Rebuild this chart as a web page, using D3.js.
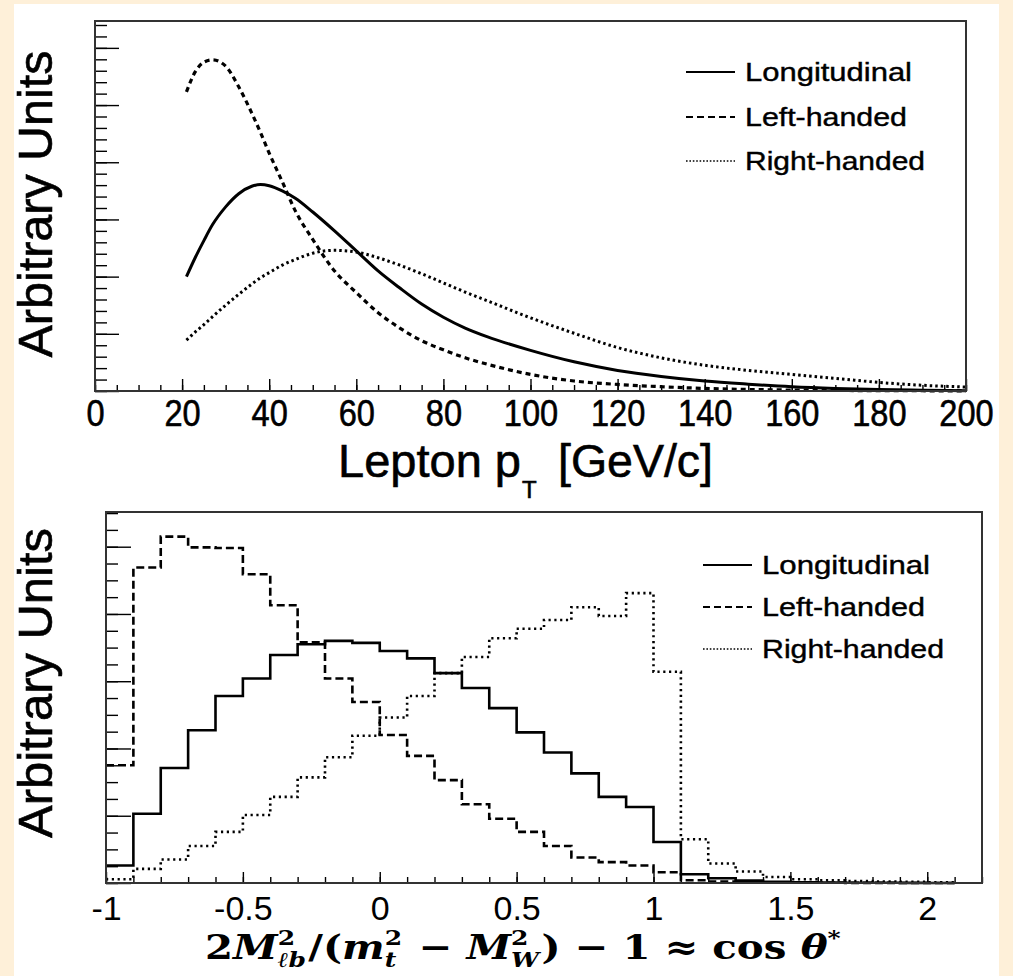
<!DOCTYPE html>
<html>
<head>
<meta charset="utf-8">
<script src="https://cdn.jsdelivr.net/npm/d3@7"></script>
<style>
  body { margin: 0; background: #fef0d9; }
  text { font-family: "Liberation Sans", Arial, sans-serif; fill: #000; }
  .heavy { stroke: #000; stroke-width: 0.6px; }
</style>
</head>
<body>
<svg id="chart" width="1013" height="976"></svg>
<script>
// ---- top panel: lepton pT spectra ----
const ptGrid = [21, 23, 25, 27, 30, 33, 36, 38, 40, 43, 46, 50, 55, 60, 65, 70, 75, 80, 85, 90,
  100, 110, 120, 130, 140, 150, 160, 170, 180, 190, 200];
const ptLongitudinal = [2.00, 2.33, 2.63, 2.91, 3.22, 3.45, 3.58, 3.61, 3.59, 3.50, 3.37, 3.13, 2.80, 2.45, 2.10, 1.80,
  1.52, 1.29, 1.10, 0.95, 0.71, 0.51, 0.36, 0.255, 0.175, 0.12, 0.075, 0.045, 0.025, 0.013, 0.006];
const ptLeftHanded = [5.23, 5.58, 5.75, 5.79, 5.68, 5.32, 4.86, 4.52, 4.16, 3.66, 3.15, 2.65, 2.10, 1.72, 1.37, 1.10,
  0.88, 0.72, 0.58, 0.47, 0.29, 0.175, 0.115, 0.075, 0.045, 0.027, 0.016, 0.01, 0.006, 0.004, 0.002];
const ptRightHanded = [0.89, 1.03, 1.16, 1.30, 1.50, 1.69, 1.87, 1.98, 2.07, 2.20, 2.30, 2.41, 2.46, 2.43, 2.33, 2.20,
  2.05, 1.89, 1.73, 1.58, 1.28, 1.01, 0.76, 0.58, 0.45, 0.36, 0.29, 0.22, 0.15, 0.10, 0.07];
const ptTickLabels = [0, 20, 40, 60, 80, 100, 120, 140, 160, 180, 200];

// ---- bottom panel: cos theta* histograms, bins of 0.1 starting at -1 ----
const binLow = -1;
const binWidth = 0.1;
const cosLongitudinal = [0.26, 1.03, 1.71, 2.27, 2.78, 3.04, 3.39, 3.55, 3.60, 3.57, 3.45, 3.34, 3.12, 2.90, 2.60, 2.24,
  1.94, 1.63, 1.28, 1.13, 0.61, 0.13, 0.07, 0.035, 0.018, 0.01, 0.006, 0.004, 0.003, 0.002, 0.001];
const cosLeftHanded = [1.75, 4.69, 5.15, 4.99, 4.98, 4.59, 4.13, 3.58, 3.04, 2.69, 2.20, 1.89, 1.53, 1.17, 0.955, 0.76,
  0.55, 0.38, 0.31, 0.26, 0.16, 0.04, 0.02, 0.012, 0.008, 0.005, 0.003, 0.002, 0.0015, 0.001, 0.001];
const cosRightHanded = [0.055, 0.21, 0.35, 0.55, 0.76, 1.01, 1.28, 1.57, 1.87, 2.19, 2.46, 2.78, 3.12, 3.36, 3.64, 3.78,
  3.91, 4.10, 3.97, 4.31, 3.14, 0.65, 0.29, 0.17, 0.09, 0.055, 0.04, 0.03, 0.022, 0.016, 0.012];
const cosTickLabels = [-1, -0.5, 0, 0.5, 1, 1.5, 2];

const seriesNames = ['Longitudinal', 'Left-handed', 'Right-handed'];

const svg = d3.select('#chart');

// cream border and white pad
svg.append('rect').attr('width', 1013).attr('height', 976).attr('fill', '#fef0d9');
svg.append('rect').attr('x', 14).attr('y', 4).attr('width', 985).attr('height', 972).attr('fill', '#fff');

// helper: draw ticks from an axis, drop the domain path
function drawTicks(g, axis, transform) {
  return g.append('g')
    .attr('transform', transform)
    .call(axis)
    .call(s => s.select('.domain').remove())
    .call(s => s.selectAll('line').attr('stroke', '#000').attr('stroke-width', 1.4));
}

function drawFrame(g, x, y) {
  g.append('rect')
    .attr('x', x.range()[0])
    .attr('y', y.range()[1])
    .attr('width', x.range()[1] - x.range()[0])
    .attr('height', y.range()[0] - y.range()[1])
    .attr('fill', 'none')
    .attr('stroke', '#333')
    .attr('stroke-width', 2);
}

// legend, one row per series
function drawLegend(g, x0, x1, xText, rows, styles, widths) {
  seriesNames.forEach((name, i) => {
    g.append('line')
      .attr('x1', x0).attr('x2', x1)
      .attr('y1', rows[i]).attr('y2', rows[i])
      .attr('stroke', '#000')
      .attr('stroke-width', styles[i].legendWidth)
      .attr('stroke-dasharray', styles[i].legendDash);
    g.append('text')
      .attr('class', 'heavy')
      .attr('x', xText)
      .attr('y', rows[i] + 9)
      .style('font-size', '25px')
      .style('stroke-width', '0.4px')
      .attr('textLength', widths[i])
      .attr('lengthAdjust', 'spacingAndGlyphs')
      .text(name);
  });
}

// ================= top panel =================
const xTop = d3.scaleLinear().domain([0, 200]).range([95, 966]);
const yTop = d3.scaleLinear().domain([0, 6.47]).range([391, 21]);
const topPanel = svg.append('g');

const topStyles = [
  { width: 3, dash: null, legendWidth: 2, legendDash: null },
  { width: 3.2, dash: '5,4', legendWidth: 2, legendDash: '7,4' },
  { width: 3, dash: '2.5,3', legendWidth: 1.6, legendDash: '1.6,1.8' }
];

const topLine = d3.line()
  .x((d, i) => xTop(ptGrid[i]))
  .y(d => yTop(d))
  .curve(d3.curveMonotoneX);

[ptLongitudinal, ptLeftHanded, ptRightHanded].forEach((vals, i) => {
  topPanel.append('path')
    .attr('d', topLine(vals))
    .attr('fill', 'none')
    .attr('stroke', '#000')
    .attr('stroke-width', topStyles[i].width)
    .attr('stroke-dasharray', topStyles[i].dash);
});

drawTicks(topPanel, d3.axisBottom(xTop).tickValues(d3.range(0, 201, 5)).tickSize(-6).tickFormat(''), 'translate(0,391)');
const topXMajor = drawTicks(topPanel, d3.axisBottom(xTop).tickValues(ptTickLabels).tickSize(-12).tickFormat(d3.format('d')), 'translate(0,391)');
topXMajor.selectAll('text')
  .attr('class', 'heavy')
  .attr('y', 35).attr('dy', null)
  .style('font-size', '37px')
  .each(function () {
    const w = this.getComputedTextLength();
    d3.select(this).attr('textLength', w * 0.88).attr('lengthAdjust', 'spacingAndGlyphs');
  });

drawTicks(topPanel, d3.axisLeft(yTop).tickValues(d3.range(0, 6.47, 0.2)).tickSize(-12).tickFormat(''), 'translate(95,0)');
drawTicks(topPanel, d3.axisLeft(yTop).tickValues(d3.range(0, 7, 1)).tickSize(-24).tickFormat(''), 'translate(95,0)');

drawFrame(topPanel, xTop, yTop);

topPanel.append('text')
  .attr('class', 'heavy')
  .attr('transform', 'translate(52,204) rotate(-90)')
  .attr('text-anchor', 'middle')
  .style('font-size', '48px')
  .attr('textLength', 307)
  .attr('lengthAdjust', 'spacingAndGlyphs')
  .text('Arbitrary Units');

// x title: Lepton p_T [GeV/c]
topPanel.append('text').attr('class', 'heavy').attr('x', 338).attr('y', 477).style('font-size', '47px')
  .attr('textLength', 183).attr('lengthAdjust', 'spacingAndGlyphs').text('Lepton p');
topPanel.append('text').attr('class', 'heavy').attr('x', 522).attr('y', 498).style('font-size', '24px').text('T');
topPanel.append('text').attr('class', 'heavy').attr('x', 558).attr('y', 477).style('font-size', '47px')
  .attr('textLength', 155).attr('lengthAdjust', 'spacingAndGlyphs').text('[GeV/c]');

drawLegend(topPanel, 686, 735, 745, [72, 117, 161], topStyles, [167, 162, 180]);

// ================= bottom panel =================
const xBot = d3.scaleLinear().domain([-1, 2.2]).range([106, 982]);
const yBot = d3.scaleLinear().domain([0, 5.516]).range([883, 512]);
const botPanel = svg.append('g');

const botStyles = [
  { width: 2.6, dash: null, legendWidth: 2, legendDash: null },
  { width: 2.6, dash: '8,4', legendWidth: 2, legendDash: '7,4' },
  { width: 2.6, dash: '2.2,3.6', legendWidth: 1.6, legendDash: '1.6,1.8' }
];

const histLine = d3.line()
  .x(d => xBot(d[0]))
  .y(d => yBot(d[1]))
  .curve(d3.curveStepAfter);

function histPoints(vals) {
  const pts = vals.map((v, i) => [binLow + i * binWidth, v]);
  pts.push([binLow + vals.length * binWidth, vals[vals.length - 1]]);
  return pts;
}

[cosLongitudinal, cosLeftHanded, cosRightHanded].forEach((vals, i) => {
  botPanel.append('path')
    .attr('d', histLine(histPoints(vals)))
    .attr('fill', 'none')
    .attr('stroke', '#000')
    .attr('stroke-width', botStyles[i].width)
    .attr('stroke-dasharray', botStyles[i].dash);
});

drawTicks(botPanel, d3.axisBottom(xBot).tickValues(d3.range(-10, 23).map(i => i / 10)).tickSize(-6).tickFormat(''), 'translate(0,883)');
const botXMajor = drawTicks(botPanel, d3.axisBottom(xBot).tickValues(cosTickLabels).tickSize(-11).tickFormat(d => String(d)), 'translate(0,883)');
botXMajor.selectAll('text')
  .attr('y', 37).attr('dy', null)
  .style('font-size', '34px');

drawTicks(botPanel, d3.axisLeft(yBot).tickValues(d3.range(0, 5.52, 0.25)).tickSize(-12).tickFormat(''), 'translate(106,0)');
drawTicks(botPanel, d3.axisLeft(yBot).tickValues(d3.range(0, 6, 1)).tickSize(-25).tickFormat(''), 'translate(106,0)');

drawFrame(botPanel, xBot, yBot);

botPanel.append('text')
  .attr('class', 'heavy')
  .attr('transform', 'translate(52,683) rotate(-90)')
  .attr('text-anchor', 'middle')
  .style('font-size', '48px')
  .attr('textLength', 310)
  .attr('lengthAdjust', 'spacingAndGlyphs')
  .text('Arbitrary Units');

drawLegend(botPanel, 703, 752, 762, [565, 607, 649], botStyles, [168, 163, 182]);

// x title: 2M^2_{lb}/(m^2_t - M^2_W) - 1 ≈ cos θ*
const formula = [
  { t: '2' }, { t: 'M', it: true }, { sup: '2', sub: 'ℓb' },
  { t: '/(' }, { t: 'm', it: true }, { sup: '2', sub: 't' },
  { t: ' − ' }, { t: 'M', it: true }, { sup: '2', sub: 'W' },
  { t: ') − 1 ≈ cos ' }, { t: 'θ', it: true }, { sup: '*' }
];
const fg = botPanel.append('g');
const fs = 34;
let cx = 0;
function piece(txt, y, size, italic) {
  const t = fg.append('text')
    .attr('x', cx).attr('y', y)
    .style('font-family', '"DejaVu Serif", serif')
    .style('font-weight', 'bold')
    .style('font-style', italic ? 'italic' : 'normal')
    .style('font-size', size + 'px')
    .style('white-space', 'pre')
    .text(txt);
  return t.node().getComputedTextLength();
}
formula.forEach(p => {
  if (p.t !== undefined) {
    cx += piece(p.t, 0, fs, p.it);
  } else {
    const w1 = p.sup ? piece(p.sup, -fs * 0.42, fs * 0.62, false) : 0;
    const w2 = p.sub ? piece(p.sub, fs * 0.24, fs * 0.62, true) : 0;
    cx += Math.max(w1, w2) + 2;
  }
});
fg.attr('transform', `translate(205,959) scale(${(843 - 205) / cx},1)`);
</script>
</body>
</html>
